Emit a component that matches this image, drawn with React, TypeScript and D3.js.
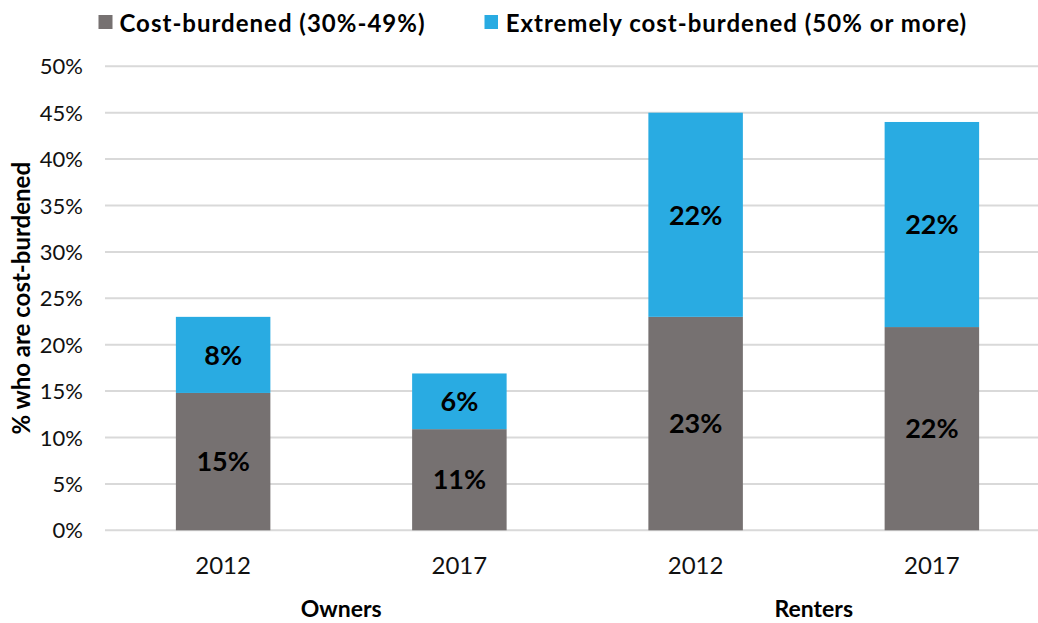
import React from 'react'
import { scaleBand, scaleLinear, range } from 'd3'

const groups = ['Owners', 'Owners', 'Renters', 'Renters']
const years = ['2012', '2017', '2012', '2017']
const costBurdened = [14.8, 10.9, 23.0, 21.9]
const extremelyBurdened = [8.2, 6.0, 22.0, 22.1]
const costLabels = ['15%', '11%', '23%', '22%']
const extremeLabels = ['8%', '6%', '22%', '22%']
const seriesNames = ['Cost-burdened (30%-49%)', 'Extremely cost-burdened (50% or more)']
const yTicks = range(0, 55, 5)

const WIDTH = 1038
const HEIGHT = 623
const GRAY = '#767171'
const BLUE = '#29ABE2'
const FONT = 'Lato, "Open Sans", sans-serif'

export default function App() {
  const keys = years.map((y, i) => `${groups[i]}-${y}-${i}`)
  const x = scaleBand<string>()
    .domain(keys)
    .range([105, 1050])
    .paddingInner(0.6)
    .paddingOuter(0.3)
  const y = scaleLinear().domain([0, 50]).range([530.3, 66.3])

  const groupNames = Array.from(new Set(groups))
  const groupCenter = (g: string) => {
    const idx = keys.filter((_, i) => groups[i] === g)
    const first = x(idx[0])! + x.bandwidth() / 2
    const last = x(idx[idx.length - 1])! + x.bandwidth() / 2
    return (first + last) / 2
  }

  return (
    <svg
      width={WIDTH}
      height={HEIGHT}
      style={{ position: 'absolute', left: 0, top: 0, background: '#fff' }}
      fontFamily={FONT}
    >
      {/* gridlines */}
      <g className="grid">
        {yTicks.map((t) => (
          <line key={t} x1={105} x2={1050} y1={y(t)} y2={y(t)} stroke="#d9d9d9" strokeWidth={2} />
        ))}
      </g>
      <g className="y-ticks" fontSize={22} textAnchor="end" fill="#111">
        {yTicks.map((t) => (
          <text key={t} x={83} y={y(t) + 8}>
            {`${t}%`}
          </text>
        ))}
      </g>
      <text
        transform={`translate(30, ${(y(0) + y(50)) / 2}) rotate(-90)`}
        textAnchor="middle"
        fontSize={24}
        fontWeight="bold"
        fill="#000"
      >
        % who are cost-burdened
      </text>

      {/* bars */}
      <g className="bars">
        {keys.map((k, i) => {
          const bx = x(k)!
          const bw = x.bandwidth()
          const y0 = y(0)
          const y1 = y(costBurdened[i])
          const y2 = y(costBurdened[i] + extremelyBurdened[i])
          return (
            <g key={k}>
              <rect x={bx} y={y1} width={bw} height={y0 - y1} fill={GRAY} />
              <rect x={bx} y={y2} width={bw} height={y1 - y2} fill={BLUE} />
              <text x={bx + bw / 2} y={(y0 + y1) / 2} dy="0.36em" textAnchor="middle" fontSize={27} fontWeight="bold" fill="#000">
                {costLabels[i]}
              </text>
              <text x={bx + bw / 2} y={(y1 + y2) / 2} dy="0.36em" textAnchor="middle" fontSize={27} fontWeight="bold" fill="#000">
                {extremeLabels[i]}
              </text>
            </g>
          )
        })}
      </g>

      {/* x axis labels */}
      <g className="x-ticks" fontSize={24} textAnchor="middle" fill="#111">
        {keys.map((k, i) => (
          <text key={k} x={x(k)! + x.bandwidth() / 2} y={573.5}>
            {years[i]}
          </text>
        ))}
      </g>
      <g className="x-groups" fontSize={23} fontWeight="bold" textAnchor="middle" fill="#000">
        {groupNames.map((g) => (
          <text key={g} x={groupCenter(g)} y={617}>
            {g}
          </text>
        ))}
      </g>

      {/* legend */}
      <g className="legend" fontSize={24} fontWeight="bold" fill="#000">
        <rect x={98.5} y={15} width={14} height={14} fill={GRAY} />
        <text x={119.5} y={32.3} letterSpacing={1}>
          {seriesNames[0]}
        </text>
        <rect x={484.5} y={15} width={13.5} height={14} fill={BLUE} />
        <text x={505.7} y={32.3} letterSpacing={1}>
          {seriesNames[1]}
        </text>
      </g>
    </svg>
  )
}
